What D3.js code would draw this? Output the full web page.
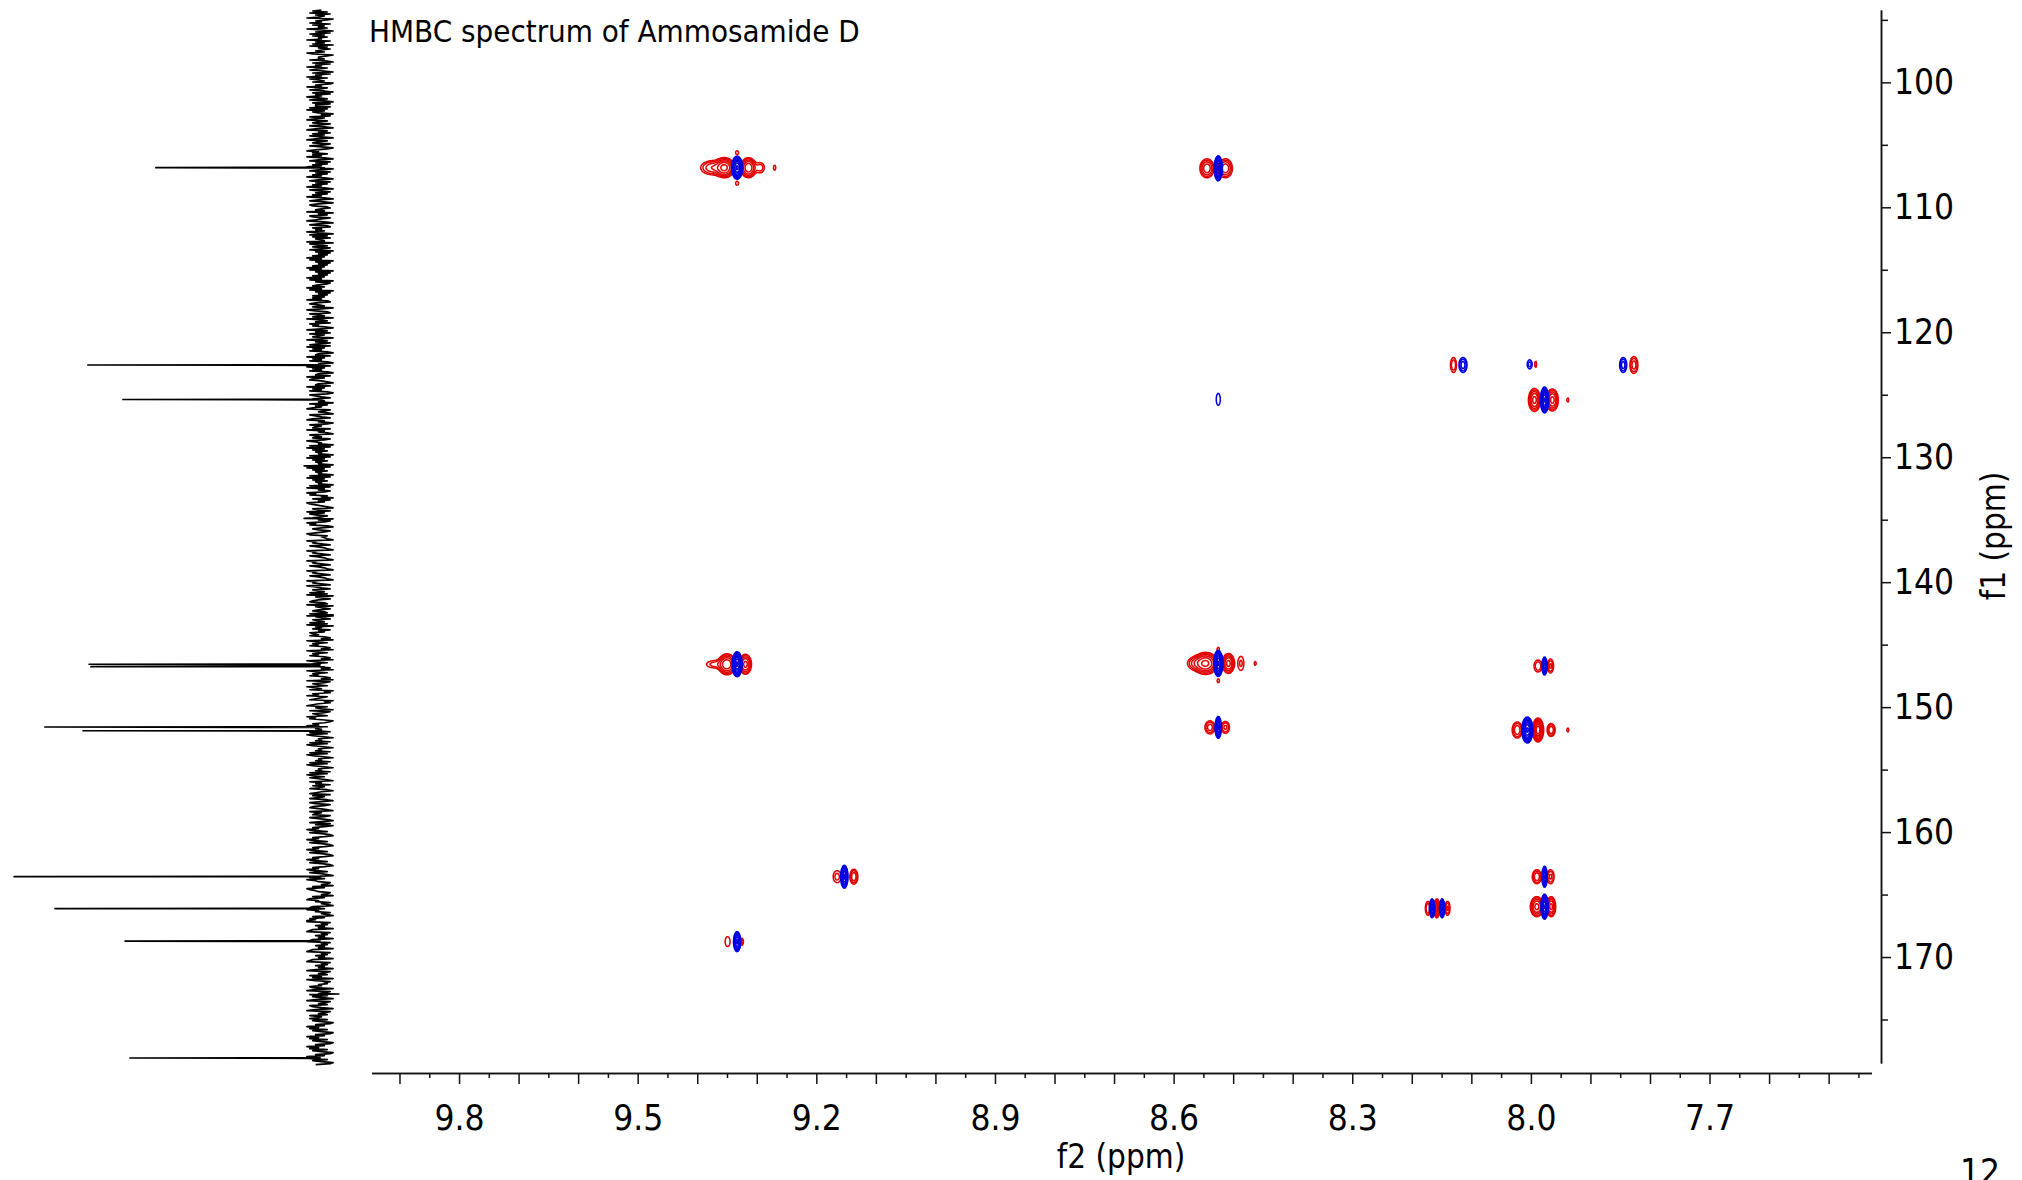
<!DOCTYPE html>
<html>
<head>
<meta charset="utf-8">
<script src="https://cdn.jsdelivr.net/npm/d3@7"></script>
<style>
  html, body { margin: 0; padding: 0; background: #fff; overflow: hidden; }
  svg { display: block; }
</style>
</head>
<body>
<script>
const title = "HMBC spectrum of Ammosamide D"
const xAxisTitle = "f2 (ppm)"
const yAxisTitle = "f1 (ppm)"
const cornerLabel = "12"

const f2Domain = [9.947, 7.428]
const f1Domain = [94.21, 178.48]
const f2MajorTicks = [9.9, 9.8, 9.7, 9.6, 9.5, 9.4, 9.3, 9.2, 9.1, 9.0, 8.9, 8.8, 8.7, 8.6, 8.5, 8.4, 8.3, 8.2, 8.1, 8.0, 7.9, 7.8, 7.7, 7.6, 7.5]
const f2MinorTicks = [9.85, 9.75, 9.65, 9.55, 9.45, 9.35, 9.25, 9.15, 9.05, 8.95, 8.85, 8.75, 8.65, 8.55, 8.45, 8.35, 8.25, 8.15, 8.05, 7.95, 7.85, 7.75, 7.65, 7.55, 7.45]
const f2LabelTicks = [9.8, 9.5, 9.2, 8.9, 8.6, 8.3, 8.0, 7.7]
const f1LabelTicks = [100, 110, 120, 130, 140, 150, 160, 170]
const f1MinorTicks = [95, 105, 115, 125, 135, 145, 155, 165, 175]

// contour levels (relative intensity)
const contourLevels = [1, 1.6, 2.6, 4.1, 6.6, 10.5, 16.8, 26.8, 42.9]

// cross peaks: [f2 ppm, f1 ppm, intensity, half width f2 (ppm), half height f1 (ppm)]
const redPeaks = [
    [9.354, 106.83, 12, 0.0168, 0.80], [9.314, 106.83, 10, 0.0134, 0.80], [9.374, 106.83, 4, 0.0202, 0.56],
    [9.294, 106.83, 2.2, 0.0067, 0.40], [9.270, 106.83, 1.2, 0.0020, 0.20],
    [9.333, 105.63, 1.2, 0.0025, 0.16], [9.333, 108.08, 1.2, 0.0025, 0.16],
    [8.544, 106.88, 6, 0.0118, 0.76], [8.513, 106.88, 6, 0.0118, 0.76],
    [8.130, 122.62, 2.5, 0.0050, 0.60],
    [7.992, 122.57, 1.15, 0.0017, 0.24],
    [7.827, 122.62, 3.5, 0.0067, 0.68],
    [7.994, 125.42, 8, 0.0101, 0.92], [7.964, 125.42, 8, 0.0101, 0.88], [7.938, 125.42, 1.2, 0.0017, 0.16],
    [9.350, 146.57, 10, 0.0151, 0.84], [9.371, 146.57, 2, 0.0134, 0.28], [9.319, 146.57, 8, 0.0101, 0.80],
    [8.546, 146.50, 12, 0.0202, 0.88], [8.563, 146.50, 3, 0.0134, 0.48], [8.508, 146.50, 8, 0.0101, 0.80],
    [8.487, 146.50, 1.8, 0.0050, 0.56], [8.463, 146.50, 1.2, 0.0017, 0.16],
    [8.525, 145.37, 1.2, 0.0020, 0.16], [8.525, 147.89, 1.2, 0.0020, 0.16],
    [7.988, 146.71, 2.5, 0.0067, 0.48], [7.967, 146.71, 3, 0.0050, 0.56],
    [8.539, 151.62, 3.5, 0.0084, 0.52], [8.513, 151.62, 3, 0.0067, 0.48],
    [7.988, 151.83, 40, 0.0092, 0.96], [8.023, 151.83, 4, 0.0084, 0.64], [7.966, 151.83, 4, 0.0067, 0.52],
    [7.938, 151.83, 1.2, 0.0017, 0.16],
    [9.165, 163.57, 2, 0.0067, 0.48], [9.137, 163.57, 4, 0.0067, 0.60],
    [7.990, 163.57, 4, 0.0076, 0.56], [7.967, 163.57, 3, 0.0059, 0.56],
    [8.173, 166.10, 2.5, 0.0042, 0.56], [8.158, 166.10, 30, 0.0050, 0.76], [8.140, 166.10, 3, 0.0042, 0.56],
    [7.990, 165.97, 8, 0.0109, 0.80], [7.966, 165.97, 8, 0.0076, 0.80],
    [9.349, 168.77, 1.3, 0.0042, 0.40], [9.325, 168.77, 2.5, 0.0025, 0.28]
]
const bluePeaks = [
    [9.333, 106.83, 30, 0.0092, 0.92],
    [8.525, 106.88, 30, 0.0067, 1.00],
    [8.114, 122.62, 3.5, 0.0067, 0.60],
    [8.002, 122.57, 2, 0.0042, 0.36],
    [7.845, 122.62, 3.5, 0.0059, 0.60],
    [7.977, 125.42, 30, 0.0067, 1.04],
    [8.525, 125.37, 1.5, 0.0034, 0.48],
    [9.333, 146.57, 30, 0.0084, 1.00],
    [8.525, 146.50, 30, 0.0076, 1.04],
    [7.977, 146.71, 15, 0.0042, 0.72],
    [8.525, 151.62, 20, 0.0050, 0.88],
    [8.006, 151.83, 30, 0.0092, 1.04],
    [9.153, 163.57, 20, 0.0059, 0.92],
    [7.977, 163.57, 20, 0.0042, 0.84],
    [8.166, 166.10, 12, 0.0042, 0.76], [8.149, 166.10, 12, 0.0042, 0.76],
    [7.977, 165.97, 30, 0.0059, 1.00],
    [9.333, 168.77, 12, 0.0059, 0.80]
]

// f1 projection (13C trace on the left): peaks [f1 ppm, intensity]
const projPeaks = [
    [106.83, 53.8], [122.62, 76.1], [125.38, 64.6], [146.57, 75.7], [146.76, 75.1],
    [151.59, 90.2], [151.89, 77.7], [163.56, 100.3], [166.12, 86.9], [168.72, 63.9], [178.08, 62.3]
]
const projSpikes = [[130.7, 5.2], [134.9, 5.2], [142.7, -4.3], [172.96, -6.2]]
const noiseStep = 0.08
const noiseDigits =
    "472816359026481735294061837254916370825146397025" +
    "538207164925830716492853701649258307164952830716" +
    "618293750418369257148306925173840692571384026957" +
    "274930581627493058162749305816274930851627493058" +
    "305872146390528714693058217463950827164390852714" +
    "806152739480615273948061527394806125739480615273" +
    "749216853704962185370942618573049261835704926158" +
    "193748205619374820561937482056193784205619374820" +
    "286417935082647913520864179350284671935208647139" +
    "645081937264508193726450819372645081937264508193" +
    "513968240715398642075193862470513968204751369824" +
    "320967418532096741853209674185320967418532096741" +
    "964175382906415783290641573280964175382906471538" +
    "758314096275831409627583140962758314096275831409" +
    "137529648031759246803157926408137529684013759246" +
    "461829730546182973054618297305461829730546182973" +
    "852084617358204681735820486137852084671385204816" +
    "037596284103759628410375962841037596284103759628" +
    "420783965124073986512407389561420783956142073869" +
    "914263507891426350789142635078914263507891426350" +
    "691352847096132548706913582740691352874069135284" +
    "582740163958274016395827401639582740163958274016"

const FONT = "'DejaVu Sans Condensed', 'DejaVu Sans', sans-serif"
const width = 2022, height = 1180
const plot = {left: 371.5, right: 1871.5, top: 10, bottom: 1063}
const xAxisY = 1073, yAxisX = 1881
const res = 1
const red = "#e20000", blue = "#0000e0"

const svg = d3.select("body").append("svg")
    .attr("width", width)
    .attr("height", height)
    .style("font-family", FONT)
    .style("font-stretch", "condensed")

const x = d3.scaleLinear().domain(f2Domain).range([plot.left, plot.right])
const y = d3.scaleLinear().domain(f1Domain).range([plot.top, plot.bottom])
const xProj = d3.scaleLinear().domain([0, 100]).range([320, 15])

const gw = Math.round((plot.right - plot.left) * res)
const gh = Math.round((plot.bottom - plot.top) * res)

const buildField = (peaks) => {
    const values = new Float64Array(gw * gh)
    peaks.forEach(([f2, f1, amp, halfW, halfH]) => {
        const spread = Math.sqrt(2 * Math.log(amp))
        const cx = (x(f2) - plot.left) * res, cy = (y(f1) - plot.top) * res
        const sx = Math.abs(x(f2 + halfW) - x(f2)) * res / spread
        const sy = Math.abs(y(f1 + halfH) - y(f1)) * res / spread
        const i0 = Math.max(0, Math.floor(cx - 5 * sx)), i1 = Math.min(gw - 1, Math.ceil(cx + 5 * sx))
        const j0 = Math.max(0, Math.floor(cy - 5 * sy)), j1 = Math.min(gh - 1, Math.ceil(cy + 5 * sy))
        for (let j = j0; j <= j1; j++) {
            const dy = (j + 0.5 - cy) / sy
            for (let i = i0; i <= i1; i++) {
                const dx = (i + 0.5 - cx) / sx
                values[j * gw + i] += amp * Math.exp(-0.5 * (dx * dx + dy * dy))
            }
        }
    })
    return values
}

const contourPath = d3.geoPath(d3.geoIdentity().scale(1 / res).translate([plot.left, plot.top]))

const appendContours = (peaks, color) => {
    const contours = d3.contours().size([gw, gh]).thresholds(contourLevels)(buildField(peaks))
    svg.append("g")
        .selectAll("path")
        .data(contours)
        .join("path")
        .attr("d", contourPath)
        .attr("fill", "none")
        .attr("stroke", color)
        .attr("stroke-width", 1.5)
}

const appendProjection = () => {
    const noise = noiseDigits.split("").map((c, i) => ({f1: f1Domain[0] + i * noiseStep, v: (+c - 4.5) * 0.95}))
    const spikes = projSpikes.map(([f1, v]) => ({f1, v}))
    const peaks = projPeaks.flatMap(([f1, v]) => [{f1: f1 - 0.03, v: 0}, {f1, v}, {f1: f1 + 0.03, v: 0}])
    const points = noise.concat(spikes, peaks).sort((a, b) => a.f1 - b.f1)
    const line = d3.line().x(d => xProj(d.v)).y(d => y(d.f1))
    svg.append("path")
        .attr("fill", "none")
        .attr("stroke", "#000")
        .attr("stroke-width", 1.7)
        .attr("stroke-linejoin", "round")
        .attr("d", line(points))
}

const styleAxis = (g, fontSize) => {
    g.attr("font-family", null).attr("font-size", null)
    g.selectAll("line, path").attr("stroke", "#111").attr("stroke-width", 1.5)
    g.selectAll("text").style("font-size", `${fontSize}px`).attr("fill", "#000")
}

const appendXAxis = () => {
    svg.append("g")
        .attr("transform", `translate(0,${xAxisY})`)
        .call(d3.axisBottom(x).tickValues(f2MinorTicks).tickSize(5).tickSizeOuter(0).tickFormat(""))
        .call(g => styleAxis(g, 35))
    svg.append("g")
        .attr("transform", `translate(0,${xAxisY})`)
        .call(d3.axisBottom(x).tickValues(f2MajorTicks).tickSize(11).tickSizeOuter(0).tickPadding(21)
            .tickFormat(d => f2LabelTicks.includes(d) ? d.toFixed(1) : ""))
        .call(g => styleAxis(g, 35))
}

const appendYAxis = () => {
    svg.append("g")
        .attr("transform", `translate(${yAxisX},0)`)
        .call(d3.axisRight(y).tickValues(f1MinorTicks).tickSize(7).tickSizeOuter(0).tickFormat(""))
        .call(g => styleAxis(g, 35))
    svg.append("g")
        .attr("transform", `translate(${yAxisX},0)`)
        .call(d3.axisRight(y).tickValues(f1LabelTicks).tickSize(10).tickSizeOuter(0).tickPadding(3))
        .call(g => styleAxis(g, 35))
}

const appendTexts = () => {
    svg.append("text")
        .attr("x", 369)
        .attr("y", 42)
        .style("font-size", "31px")
        .text(title)
    svg.append("text")
        .attr("x", 1121)
        .attr("y", 1168)
        .attr("text-anchor", "middle")
        .style("font-size", "33px")
        .text(xAxisTitle)
    svg.append("text")
        .attr("transform", `translate(2005,536) rotate(-90)`)
        .attr("text-anchor", "middle")
        .style("font-size", "33px")
        .text(yAxisTitle)
    svg.append("text")
        .attr("x", 1960)
        .attr("y", 1184)
        .style("font-size", "35px")
        .text(cornerLabel)
}

appendProjection()
appendContours(redPeaks, red)
appendContours(bluePeaks, blue)
appendXAxis()
appendYAxis()
appendTexts()
</script>
</body>
</html>
